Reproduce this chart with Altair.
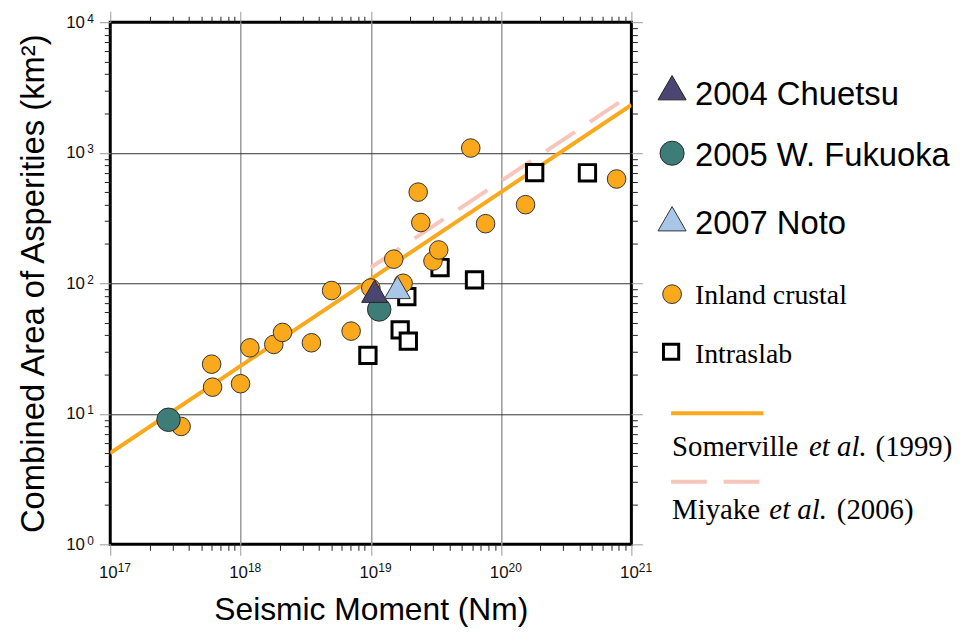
import altair as alt
import pandas as pd

# ---------------- data ----------------
inland_m0 = [3.5e17, 6.0e17, 6.1e17, 1.0e18, 1.18e18, 1.8e18, 2.1e18, 3.5e18, 5.0e18,
             7.06e18, 1.0e19, 1.5e19, 1.77e19, 2.31e19, 2.42e19, 3.0e19, 3.32e19,
             5.85e19, 7.6e19, 1.54e20, 7.7e20]
inland_area = [8.0, 24, 16, 17, 32, 34, 42, 35, 88, 43, 92, 153, 100, 499, 292, 148, 180,
               1086, 286, 400, 629]

intraslab_m0 = [9.5e18, 1.68e19, 1.89e19, 1.94e19, 3.4e19, 6.25e19, 1.81e20, 4.6e20]
intraslab_area = [28, 44, 79, 36, 132, 106, 703, 702]

chuetsu_m0 = [1.07e19]
chuetsu_area = [87]
fukuoka_m0 = [2.8e17, 1.16e19]
fukuoka_area = [9.0, 63]
noto_m0 = [1.6e19]
noto_area = [93]

somerville_m0 = [1e17, 1e21]
somerville_area = [5.0, 2320]
miyake_m0 = [1e19, 1e21]
miyake_area = [132, 2800]

x_exps = [17, 18, 19, 20, 21]
y_exps = [0, 1, 2, 3, 4]

ORANGE = "#F9A91B"
PINK = "#F7C5BA"
TEAL = "#3E7C78"
PURPLE = "#4A4571"
LIGHTBLUE = "#A8C7E8"

LOGV = "(log(datum.value)/LN10)"
MAJ = f"(abs({LOGV} - round({LOGV})) < 0.01)"
BASE_EXPR = f"{MAJ} ? '10' : ''"
EXP_EXPR = f"{MAJ} ? ('' + round({LOGV})) : ''"

x_ticks = [k * 10.0 ** n for n in x_exps[:-1] for k in range(1, 10)] + [10.0 ** x_exps[-1]]
y_ticks = [k * 10.0 ** n for n in y_exps[:-1] for k in range(1, 10)] + [10.0 ** y_exps[-1]]
x_major = [10.0 ** n for n in x_exps]
y_major = [10.0 ** n for n in y_exps]

xs = alt.Scale(type="log", domain=[10.0 ** x_exps[0], 10.0 ** x_exps[-1]], nice=False)
ys = alt.Scale(type="log", domain=[10.0 ** y_exps[0], 10.0 ** y_exps[-1]], nice=False)

tick_size = {"condition": {"test": MAJ, "value": 11}, "value": 6}
tick_color = {"condition": {"test": MAJ, "value": "#9a9a9a"}, "value": "#222222"}

grid_x_test = f"{MAJ} && datum.value > 1.5e17 && datum.value < 5e20"
grid_y_test = f"{MAJ} && datum.value > 1.5 && datum.value < 5000"

SANS = "Liberation Sans"
SERIF = "Liberation Serif"
W, H = 525, 526

# main axes: ticks, grid, "10" part of the labels, titles
x_bottom = alt.Axis(
    orient="bottom", values=x_ticks, labelExpr=BASE_EXPR, labelOverlap=False,
    labelFlush=False, labelFont=SANS, labelFontSize=17, labelColor="#111111",
    labelAlign="right", labelOffset=7, labelPadding=9, labelBaseline="top",
    domain=False, tickSize=tick_size, tickColor=tick_color, tickWidth=1,
    grid=True, gridColor="#9a9a9a", gridWidth=1.5,
    gridOpacity={"condition": {"test": grid_x_test, "value": 1}, "value": 0},
    title="Seismic Moment (Nm)", titleFont=SANS, titleFontSize=32,
    titleFontWeight="normal", titleColor="black", titleBaseline="alphabetic",
    titleY=76, titleX=W / 2, titleAlign="center",
)
y_left = alt.Axis(
    orient="left", values=y_ticks, labelExpr=BASE_EXPR, labelOverlap=False,
    labelFlush=False, labelFont=SANS, labelFontSize=17, labelColor="#111111",
    labelAlign="right", labelBaseline="middle", labelPadding=15,
    domain=False, tickSize=tick_size, tickColor=tick_color, tickWidth=1,
    grid=True, gridColor="#333333", gridWidth=1,
    gridOpacity={"condition": {"test": grid_y_test, "value": 1}, "value": 0},
    title="Combined Area of Asperities (km²)", titleFont=SANS, titleFontSize=33,
    titleFontWeight="normal", titleColor="black", titleBaseline="alphabetic",
    titleX=-67, titleY=H / 2, titleAngle=270, titleAlign="center",
)
# exponent part of the labels (superscripts)
x_exp_axis = alt.Axis(
    orient="bottom", values=x_major, labelExpr=EXP_EXPR, labelOverlap=False,
    labelFlush=False, labelFont=SANS, labelFontSize=12, labelColor="#111111",
    labelAlign="left", labelOffset=7, labelPadding=18, labelBaseline="top",
    domain=False, ticks=False, grid=False,
)
y_exp_axis = alt.Axis(
    orient="left", values=y_major, labelExpr=EXP_EXPR, labelOverlap=False,
    labelFlush=False, labelFont=SANS, labelFontSize=12, labelColor="#111111",
    labelAlign="right", labelBaseline="middle", labelOffset=-4, labelPadding=17,
    domain=False, ticks=False, grid=False,
)
x_top = alt.Axis(orient="top", values=x_ticks, labels=False, domain=False, grid=False,
                 tickSize=tick_size, tickColor=tick_color, tickWidth=1)
y_right = alt.Axis(orient="right", values=y_ticks, labels=False, domain=False, grid=False,
                   tickSize=tick_size, tickColor=tick_color, tickWidth=1)

def df(xv, yv):
    return pd.DataFrame({"m0": xv, "area": yv})

def enc(xaxis=None, yaxis=None):
    return dict(
        x=alt.X("m0:Q", scale=xs, axis=xaxis, title=None),
        y=alt.Y("area:Q", scale=ys, axis=yaxis, title=None),
    )

som_line = alt.Chart(df(somerville_m0, somerville_area)).mark_line(
    color=ORANGE, strokeWidth=4, clip=True
).encode(**enc(x_top, y_right))

miy_line = alt.Chart(df(miyake_m0, miyake_area)).mark_line(
    color=PINK, strokeWidth=4, strokeDash=[35, 18], clip=True
).encode(**enc(x_exp_axis, y_exp_axis))

squares = alt.Chart(df(intraslab_m0, intraslab_area)).mark_point(
    shape="square", filled=True, fill="white", stroke="black", strokeWidth=3,
    size=270, opacity=1
).encode(**enc(x_bottom, y_left))

inland = alt.Chart(df(inland_m0, inland_area)).mark_point(
    shape="circle", filled=True, fill=ORANGE, stroke="#333333", strokeWidth=1,
    size=350, opacity=1
).encode(**enc())

fukuoka = alt.Chart(df(fukuoka_m0, fukuoka_area)).mark_point(
    shape="circle", filled=True, fill=TEAL, stroke="#2a2a2a", strokeWidth=1,
    size=560, opacity=1
).encode(**enc())

chuetsu = alt.Chart(df(chuetsu_m0, chuetsu_area)).mark_point(
    shape="triangle-up", filled=True, fill=PURPLE, stroke="#222222", strokeWidth=1,
    size=680, opacity=1
).encode(**enc())

noto = alt.Chart(df(noto_m0, noto_area)).mark_point(
    shape="triangle-up", filled=True, fill=LIGHTBLUE, stroke="#333333", strokeWidth=1,
    size=680, opacity=1
).encode(**enc())

# ---------------- hand-built legend (outside the plot, right side) ----------------
one = pd.DataFrame({"d": [0]})

def lg_sym(shape, fill, stroke, sw, size, x, y):
    return alt.Chart(one).mark_point(
        shape=shape, filled=True, fill=fill, stroke=stroke, strokeWidth=sw,
        size=size, opacity=1
    ).encode(x=alt.value(x), y=alt.value(y))

def lg_text(text, x, y, font, size, style="normal"):
    return alt.Chart(one).mark_text(
        text=text, font=font, fontSize=size, fontStyle=style, align="left",
        baseline="alphabetic", color="black"
    ).encode(x=alt.value(x), y=alt.value(y))

def lg_rule(color, x1, x2, y, dash=None):
    kw = dict(color=color, strokeWidth=4)
    if dash:
        kw["strokeDash"] = dash
    return alt.Chart(one).mark_rule(**kw).encode(
        x=alt.value(x1), x2=alt.value(x2), y=alt.value(y))

legend = [
    lg_sym("triangle-up", PURPLE, "#222222", 1, 800, 566, 66),
    lg_text("2004 Chuetsu", 589, 83, SANS, 33),
    lg_sym("circle", TEAL, "#2a2a2a", 1, 590, 566, 132),
    lg_text("2005 W. Fukuoka", 589, 145, SANS, 33),
    lg_sym("triangle-up", LIGHTBLUE, "#333333", 1, 800, 566, 198),
    lg_text("2007 Noto", 589, 213, SANS, 33),
    lg_sym("circle", ORANGE, "#333333", 1, 357, 566, 274),
    lg_text("Inland crustal", 589, 284, SERIF, 28),
    lg_sym("square", "white", "black", 3, 235, 565, 332),
    lg_text("Intraslab", 589, 343, SERIF, 28),
    lg_rule(ORANGE, 565, 658, 394),
    lg_text("Somerville", 566, 437, SERIF, 29),
    lg_text("et al.", 704, 437, SERIF, 29, "italic"),
    lg_text("(1999)", 771, 437, SERIF, 29),
    lg_rule(PINK, 565, 655, 463, [36, 17]),
    lg_text("Miyake", 566, 500, SERIF, 29),
    lg_text("et al.", 664, 500, SERIF, 29, "italic"),
    lg_text("(2006)", 732, 500, SERIF, 29),
]

chart = alt.layer(
    som_line, miy_line, squares, inland, fukuoka, chuetsu, noto, *legend
).resolve_axis(x="independent", y="independent").properties(
    width=W, height=H,
    autosize=alt.AutoSizeParams(type="none"),
    padding={"left": 103, "top": 12, "right": 324, "bottom": 83},
).configure_view(stroke="black", strokeWidth=3)

chart.save("out.html", embed_options={"renderer": "svg", "actions": False})
